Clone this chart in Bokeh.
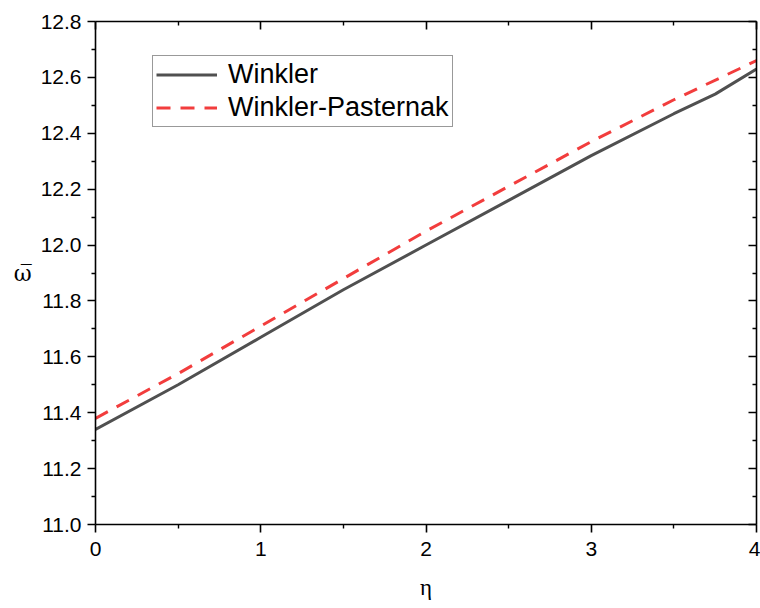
from bokeh.plotting import figure
from bokeh.models import (Range1d, LinearAxis, FixedTicker, Legend, LegendItem,
                          CustomJSTickFormatter)
from bokeh.embed import file_html
from bokeh.resources import INLINE

eta = [0, 0.5, 1, 1.5, 2, 2.5, 3, 3.5, 3.75, 4]
winkler = [11.34, 11.50, 11.67, 11.84, 12.00, 12.16, 12.32, 12.47, 12.54, 12.63]
eta_wp = [0, 0.5, 1, 1.5, 2, 2.5, 3, 3.5, 4]
winkler_pasternak = [11.38, 11.54, 11.71, 11.88, 12.05, 12.21, 12.37, 12.52, 12.66]

x_ticks = [0, 1, 2, 3, 4]
y_ticks = [11.0, 11.2, 11.4, 11.6, 11.8, 12.0, 12.2, 12.4, 12.6, 12.8]

p = figure(width=760, height=608, output_backend="svg", toolbar_location=None,
           x_range=Range1d(0, 4), y_range=Range1d(11.0, 12.8),
           min_border_left=95, min_border_right=4, min_border_top=21, min_border_bottom=84,
           x_axis_location=None, y_axis_location=None)
p.grid.visible = False
p.outline_line_color = None
p.background_fill_color = "white"

font = "Liberation Sans"

def style(ax, labels=True, inside=False):
    ax.axis_line_color = "black"
    ax.axis_line_width = 1.6
    ax.major_tick_line_color = "black"
    ax.minor_tick_line_color = "black"
    ax.major_tick_line_width = 1.6
    ax.minor_tick_line_width = 1.4
    if inside:
        ax.major_tick_in = 8
        ax.major_tick_out = 0
        ax.minor_tick_in = 4
        ax.minor_tick_out = 0
    else:
        ax.major_tick_in = 0
        ax.major_tick_out = 8
        ax.minor_tick_in = 0
        ax.minor_tick_out = 4
    ax.major_label_text_font = font
    ax.major_label_text_font_size = "21px"
    ax.major_label_text_color = "black"
    if not labels:
        ax.major_label_text_font_size = "0px"
        ax.major_label_text_color = None

xt = FixedTicker(ticks=x_ticks, minor_ticks=[0.5, 1.5, 2.5, 3.5])
yt = FixedTicker(ticks=y_ticks, minor_ticks=[round(11.1 + 0.2 * i, 1) for i in range(9)])

bottom = LinearAxis(ticker=xt)
style(bottom)
bottom.major_label_standoff = 9
bottom.axis_label = "η"
bottom.axis_label_text_font = "Liberation Serif"
bottom.axis_label_text_font_size = "23px"
bottom.axis_label_text_font_style = "normal"
bottom.axis_label_text_color = "black"
bottom.axis_label_standoff = 16

top = LinearAxis(ticker=xt)
style(top, labels=False, inside=True)

left = LinearAxis(ticker=yt)
style(left)
left.major_label_standoff = 6
left.formatter = CustomJSTickFormatter(code="return tick.toFixed(1);")
left.axis_label = "ω\u0305"
left.axis_label_orientation = "horizontal"
left.axis_label_text_font = "DejaVu Serif"
left.axis_label_text_font_size = "22px"
left.axis_label_text_font_style = "normal"
left.axis_label_text_color = "black"
left.axis_label_standoff = 6

right = LinearAxis(ticker=yt)
style(right, labels=False, inside=True)

p.add_layout(bottom, "below")
p.add_layout(top, "above")
p.add_layout(left, "left")
p.add_layout(right, "right")

r1 = p.line(eta, winkler, line_color="#505050", line_width=3)
r2 = p.line(eta_wp, winkler_pasternak, line_color="#f23d3d", line_width=3, line_dash="14 10")

legend = Legend(items=[LegendItem(label="Winkler", renderers=[r1]),
                       LegendItem(label="Winkler-Pasternak", renderers=[r2])],
                location=(57, 397))
legend.label_text_font = font
legend.label_text_font_size = "27px"
legend.label_text_color = "black"
legend.border_line_color = "#333333"
legend.border_line_width = 1
legend.glyph_width = 61
legend.glyph_height = 29
legend.label_height = 29
legend.spacing = 2
legend.padding = 3
legend.margin = 0
legend.label_standoff = 11
legend.background_fill_alpha = 1
p.add_layout(legend, "center")

open("out.html", "w").write(file_html(p, INLINE))
